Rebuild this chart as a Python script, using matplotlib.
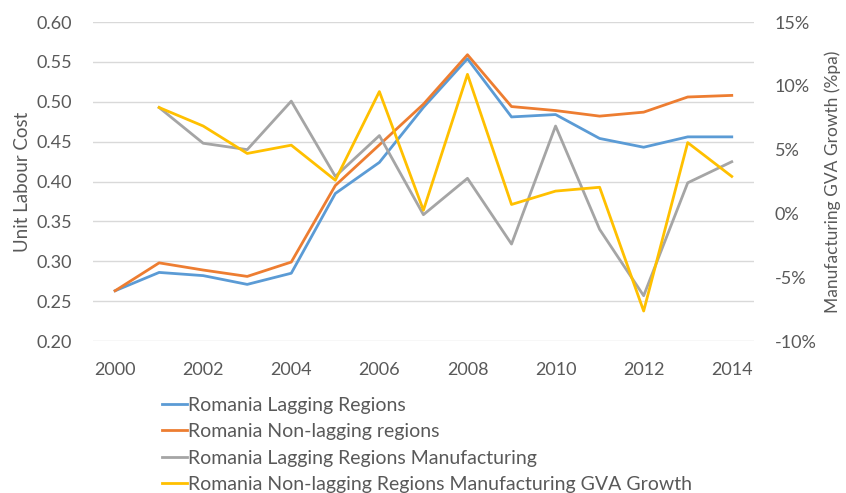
import matplotlib.pyplot as plt
from matplotlib.ticker import FuncFormatter

plt.rcParams["font.family"] = ["Lato", "DejaVu Sans"]

YEARS = list(range(2000, 2015))
GROWTH_YEARS = list(range(2001, 2015))

# Unit labour cost (left axis)
ulc_lagging = [0.263, 0.286, 0.282, 0.271, 0.285, 0.385, 0.424, 0.493,
               0.554, 0.481, 0.484, 0.454, 0.443, 0.456, 0.456]
ulc_non_lagging = [0.263, 0.298, 0.289, 0.281, 0.299, 0.395, 0.446, 0.497,
                   0.559, 0.494, 0.489, 0.482, 0.487, 0.506, 0.508]

# Manufacturing GVA growth, % per annum (right axis)
gva_lagging = [8.3, 5.5, 5.0, 8.8, 2.9, 6.1, -0.1, 2.75, -2.4, 6.85,
               -1.25, -6.45, 2.4, 4.05]
gva_non_lagging = [8.3, 6.85, 4.7, 5.35, 2.6, 9.55, 0.25, 10.9, 0.7, 1.75,
                   2.05, -7.65, 5.55, 2.9]

LABELS = [
    "Romania Lagging Regions",
    "Romania Non-lagging regions",
    "Romania Lagging Regions Manufacturing",
    "Romania Non-lagging Regions Manufacturing GVA Growth",
]
COLORS = ["#5B9BD5", "#ED7D31", "#A5A5A5", "#FFC000"]
TEXT = "#595959"
GRID = "#D9D9D9"

fig = plt.figure(figsize=(8.46, 4.93), dpi=100)
ax = fig.add_axes([0.110, 0.3083, 0.781, 0.647])
ax2 = ax.twinx()

lw = 2.0
l1, = ax.plot(YEARS, ulc_lagging, color=COLORS[0], lw=lw, zorder=3)
l2, = ax.plot(YEARS, ulc_non_lagging, color=COLORS[1], lw=lw, zorder=3)
l3, = ax2.plot(GROWTH_YEARS, gva_lagging, color=COLORS[2], lw=lw)
l4, = ax2.plot(GROWTH_YEARS, gva_non_lagging, color=COLORS[3], lw=lw)

ax.set_xlim(1999.5, 2014.5)
ax.set_ylim(0.20, 0.60)
ax.set_yticks([0.20 + 0.05 * i for i in range(9)])
ax.yaxis.set_major_formatter(FuncFormatter(lambda v, _: f"{v:.2f}"))
ax.set_xticks(YEARS[::2])

ax2.set_ylim(-10, 15)
ax2.set_yticks(range(-10, 16, 5))
ax2.yaxis.set_major_formatter(FuncFormatter(lambda v, _: f"{v:.0f}%"))

ax.grid(axis="y", color=GRID, lw=1.0)
ax.set_axisbelow(True)
for a in (ax, ax2):
    for s in a.spines.values():
        s.set_visible(False)
    a.tick_params(length=0, colors=TEXT, labelsize=13)
ax.tick_params(axis="y", pad=15)
ax2.tick_params(axis="y", pad=15)
ax.tick_params(axis="x", pad=15, labelsize=13)

ax.set_ylabel("Unit Labour Cost", color=TEXT, fontsize=13.5, labelpad=4)
ax2.set_ylabel("Manufacturing GVA Growth (%pa)", color=TEXT, fontsize=12.5,
               labelpad=6)

fig.legend([l1, l2, l3, l4], LABELS, loc="upper left",
           bbox_to_anchor=(0.191, 0.195), frameon=False, ncol=1,
           handlelength=1.3, handletextpad=0.05, labelspacing=0.48,
           fontsize=14, labelcolor=TEXT, borderaxespad=0, borderpad=0)

fig.savefig("out.png", dpi=100)
